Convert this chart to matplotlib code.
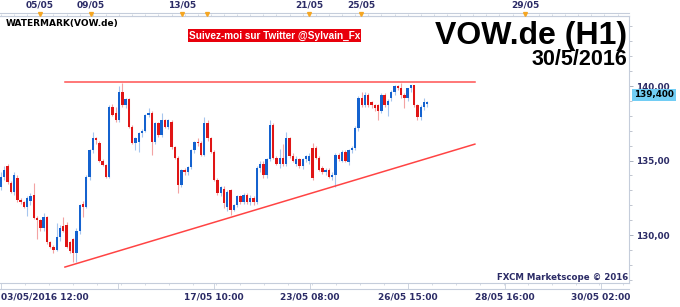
import numpy as np
import matplotlib
matplotlib.use('Agg')
import matplotlib.pyplot as plt
import matplotlib.transforms as mtransforms

# hourly candles (bar index on x)
opens = [133.2, 133.9, 134.6, 133.5, 132.9, 133.8, 132.35, 132.2, 131.9, 132.3,
         132.7, 131.15, 131.0, 130.5, 131.2, 129.5, 129.2, 129.0, 129.9, 130.6,
         130.7, 129.5, 129.7, 128.8, 130.3, 132.1, 131.9, 133.9, 135.7, 136.5,
         136.2, 135.0, 134.7, 133.9, 138.6, 138.2, 137.7, 139.6, 138.7, 139.1,
         137.25, 136.2, 136.25, 136.85, 137.0, 138.05, 138.2, 136.25, 137.5, 136.7,
         137.7, 137.25, 137.6, 135.9, 135.2, 133.35, 134.35, 134.2, 134.55, 135.7,
         136.25, 136.2, 135.4, 137.5, 136.5, 135.6, 133.7, 132.8, 133.1, 131.9,
         133.0, 131.7, 132.0, 132.6, 132.2, 132.7, 132.2, 132.5, 132.2, 134.5,
         134.8, 134.0, 135.1, 137.4, 135.15, 134.8, 135.2, 134.8, 136.5, 135.3,
         134.8, 135.1, 134.6, 135.1, 135.0, 135.85, 135.85, 135.2, 134.5, 134.2,
         134.35, 133.9, 134.0, 135.4, 135.0, 135.6, 134.9, 135.7, 135.85, 137.2,
         139.2, 138.7, 139.4, 138.9, 138.7, 138.7, 138.3, 139.4, 138.7, 139.2,
         139.6, 140.0, 139.85, 139.4, 139.2, 139.85, 140.05, 138.7, 137.9, 138.6,
         138.8]
highs = [134.2, 134.6, 134.8, 133.6, 134.2, 134.0, 132.5, 132.3, 132.6, 132.8,
         133.5, 131.3, 131.1, 131.5, 131.3, 129.6, 129.3, 130.8, 130.7, 131.2,
         130.9, 129.6, 129.8, 130.5, 132.1, 132.3, 134.0, 135.8, 136.9, 136.6,
         136.3, 135.1, 134.8, 138.7, 138.8, 138.6, 140.0, 140.2, 139.2, 139.2,
         137.4, 136.6, 136.9, 137.1, 138.1, 138.5, 138.3, 137.6, 137.6, 138.2,
         137.8, 137.8, 137.7, 136.0, 135.3, 134.4, 134.5, 134.6, 135.8, 136.3,
         136.5, 136.3, 137.9, 137.7, 136.6, 135.7, 133.8, 133.3, 133.3, 133.0,
         133.1, 132.1, 132.7, 132.7, 132.8, 132.8, 132.7, 132.6, 134.6, 135.0,
         135.0, 135.2, 137.7, 137.5, 135.3, 135.8, 136.1, 136.9, 136.6, 135.5,
         135.3, 135.2, 135.2, 135.4, 135.5, 136.2, 136.0, 135.3, 134.6, 134.5,
         134.5, 134.2, 135.5, 135.5, 135.7, 135.7, 135.8, 136.0, 137.3, 139.3,
         139.6, 139.6, 139.5, 139.0, 138.8, 138.8, 139.5, 139.5, 139.1, 139.7,
         140.1, 140.1, 140.2, 139.5, 139.9, 140.1, 140.1, 138.8, 138.7, 139.2,
         139.0]
lows = [133.0, 133.7, 133.4, 132.8, 132.7, 132.2, 132.1, 131.8, 131.3, 132.0,
        131.1, 129.7, 130.3, 130.3, 129.4, 129.1, 128.8, 128.9, 129.6, 130.2,
        129.1, 128.8, 128.2, 128.2, 130.1, 131.2, 131.8, 133.7, 135.5, 136.1,
        134.9, 134.6, 133.8, 133.8, 138.0, 137.6, 137.6, 138.6, 138.5, 137.2,
        136.1, 135.7, 135.6, 136.6, 136.9, 137.9, 135.4, 136.1, 136.6, 136.6,
        137.2, 137.1, 135.8, 135.1, 132.8, 133.2, 134.0, 134.0, 134.4, 135.5,
        136.0, 135.3, 135.3, 136.3, 135.5, 133.6, 132.7, 132.6, 131.8, 131.6,
        131.35, 131.6, 131.9, 132.1, 132.1, 132.1, 132.0, 132.0, 132.1, 134.2,
        133.8, 133.8, 135.0, 135.1, 134.7, 134.5, 134.6, 134.6, 135.2, 134.9,
        134.6, 134.5, 134.4, 134.9, 134.8, 133.7, 135.1, 134.3, 134.1, 134.0,
        133.8, 133.7, 133.2, 135.0, 134.9, 134.9, 134.7, 135.5, 135.7, 137.0,
        138.6, 138.6, 138.6, 138.5, 138.3, 137.7, 138.2, 138.6, 138.0, 139.0,
        139.4, 139.7, 139.2, 138.5, 139.0, 139.6, 138.6, 137.7, 137.7, 138.4,
        138.6]
closes = [133.9, 134.35, 133.55, 132.9, 134.0, 132.35, 132.2, 131.9, 132.5, 132.6,
          131.15, 131.0, 130.45, 131.2, 129.5, 129.2, 129.0, 129.9, 130.5, 130.3,
          129.2, 128.9, 128.8, 130.3, 132.0, 131.9, 133.9, 135.7, 136.5, 136.4,
          135.0, 134.7, 133.9, 138.6, 138.05, 137.7, 139.6, 138.7, 139.1, 137.25,
          136.2, 136.5, 136.85, 137.0, 138.05, 138.2, 136.25, 137.5, 136.7, 137.7,
          137.25, 137.7, 135.9, 135.2, 133.35, 134.35, 134.2, 134.55, 135.7, 136.25,
          136.2, 135.4, 137.5, 136.5, 135.6, 133.7, 132.8, 133.2, 132.15, 132.9,
          131.7, 132.0, 132.6, 132.2, 132.7, 132.2, 132.5, 132.2, 134.5, 134.8,
          134.0, 135.1, 137.4, 135.15, 134.8, 135.2, 134.8, 136.5, 135.3, 135.0,
          135.1, 134.6, 135.1, 135.3, 135.3, 133.8, 135.2, 134.35, 134.2, 134.35,
          133.9, 134.0, 135.4, 135.1, 135.6, 135.0, 135.7, 135.85, 137.2, 139.2,
          138.7, 139.4, 138.7, 138.7, 138.5, 138.3, 139.4, 138.7, 139.0, 139.6,
          140.0, 139.9, 139.4, 139.2, 139.85, 140.05, 138.7, 137.9, 138.6, 138.9,
          138.9]

# trend lines (bar index, price)
resist_x = [19.5, 144.5]
resist_y = [140.27, 140.27]
support_x = [19.5, 144.5]
support_y = [127.85, 136.1]

last_price = 139.4

top_ticks = [11.9, 27.4, 55.2, 62.8, 93.9, 109.8, 159.8]
top_labels = ['05/05', '09/05', '13/05', '', '21/05', '25/05', '29/05']
top_marks = [11.9, 27.4, 55.2, 62.8, 93.9, 109.8, 159.8]

bottom_ticks = [0, 35.7, 64.9, 94.2, 124.1, 153.7, 182.9]
bottom_labels = ['03/05/2016 12:00', '', '17/05 10:00', '23/05 08:00',
                 '26/05 15:00', '28/05 16:00', '30/05 02:00']

price_ticks = [130, 135, 140]
price_labels = ['130,00', '135,00', '140,00']

plt.rcParams['font.family'] = 'DejaVu Sans'

navy = '#2b2b66'
frame = '#c5cddb'
blue = '#1462cf'
red = '#e01515'

fig = plt.figure(figsize=(6.8, 3.07), dpi=100)
ax = fig.add_axes([0, 24 / 307, 629 / 680, 267 / 307])

o = np.array(opens)
c = np.array(closes)
h = np.array(highs)
l = np.array(lows)
x = np.arange(len(o))
up = c >= o
body_lo = np.minimum(o, c)
body_h = np.maximum(np.abs(c - o), 0.06)

ax.vlines(x[up], l[up], h[up], color='#a6c6ee', lw=0.8, zorder=2)
ax.vlines(x[~up], l[~up], h[~up], color='#f3a3a3', lw=0.8, zorder=2)
ax.bar(x[up], body_h[up], bottom=body_lo[up], width=0.72, color=blue, zorder=3)
ax.bar(x[~up], body_h[~up], bottom=body_lo[~up], width=0.72, color=red, zorder=3)

ax.plot(resist_x, resist_y, color='#ff5252', lw=1.1, zorder=4)
ax.plot(support_x, support_y, color='#ff4444', lw=1.1, zorder=4)

ax.set_xlim(-0.3, 191.5)
ax.set_ylim(126.78, 144.7)

for side in ['top', 'bottom', 'right']:
    ax.spines[side].set_color(frame)
    ax.spines[side].set_linewidth(0.8)
ax.spines['left'].set_visible(False)

# price axis on the right
ax.yaxis.tick_right()
ax.set_yticks(price_ticks, price_labels)
ax.set_yticks(np.arange(127, 145, 1), minor=True)
ax.tick_params(axis='y', which='major', direction='out', length=3, width=0.6,
               color='#9aa3b3', labelsize=6.3, labelcolor=navy, pad=2)
ax.tick_params(axis='y', which='minor', direction='out', length=1.8, width=0.6,
               color='#b5bcc8')
for t in ax.get_yticklabels():
    t.set_fontweight('bold')

# bottom date axis
ax.set_xticks(bottom_ticks, bottom_labels)
ax.set_xticks(np.arange(0, 191, 7.3), minor=True)
ax.tick_params(axis='x', which='major', direction='out', length=4.3, width=0.6,
               color=frame, labelsize=6.5, labelcolor=navy, pad=2.5)
ax.tick_params(axis='x', which='minor', direction='out', length=1.5, width=0.5,
               color=frame)
for t in ax.get_xticklabels():
    t.set_fontweight('bold')
ax.get_xticklabels()[0].set_horizontalalignment('left')

# top day axis
sec = ax.secondary_xaxis('top')
sec.set_xticks(top_ticks, top_labels)
sec.set_xticks(np.arange(0, 191, 4), minor=True)
sec.spines['top'].set_color(frame)
sec.tick_params(axis='x', which='major', direction='out', length=2.4, width=0.6,
                color=frame, labelsize=6.5, labelcolor=navy, pad=2)
sec.tick_params(axis='x', which='minor', direction='out', length=1.2, width=0.5,
                color=frame)
for t in sec.get_xticklabels():
    t.set_fontweight('bold')

trans = mtransforms.blended_transform_factory(ax.transData, ax.transAxes)
ax.plot(top_marks, [1.007] * len(top_marks), 'v', color='#f5a623', ms=2.8,
        transform=trans, clip_on=False, zorder=5)

# band lines above and below the plot
ax.plot([0, 1], [1.0124, 1.0124], color=frame, lw=0.8, transform=ax.transAxes,
        clip_on=False)
ax.plot([0, 1], [-0.0225, -0.0225], color=frame, lw=0.8, transform=ax.transAxes,
        clip_on=False)

# last price tag
ytrans = mtransforms.blended_transform_factory(ax.transAxes, ax.transData)
ax.text(1.008, last_price, '139,400', transform=ytrans, ha='left', va='center',
        fontsize=6.3, fontweight='bold', color='black', clip_on=False,
        bbox=dict(facecolor='#72cdf4', edgecolor='none', pad=1.2))

# texts
fig.text(6 / 680, 1 - 23.5 / 307, 'WATERMARK(VOW.de)', fontsize=6.5,
         fontweight='bold', color='black', ha='left', va='center')
fig.text(274.5 / 680, 1 - 35.5 / 307, 'Suivez-moi sur Twitter @Sylvain_Fx',
         fontsize=7.2, fontweight='bold', color='white', ha='center', va='center',
         family='Liberation Sans',
         bbox=dict(facecolor='#e8000c', edgecolor='none', pad=0.8))
fig.text(627 / 680, 1 - 36 / 307, 'VOW.de (H1)', fontsize=23, fontweight='bold',
         family='Liberation Sans', ha='right', va='center')
fig.text(627 / 680, 1 - 59.5 / 307, '30/5/2016', fontsize=15.5, fontweight='bold',
         family='Liberation Sans', ha='right', va='center')
fig.text(628 / 680, 1 - 278 / 307, 'FXCM Marketscope \u00a9 2016', fontsize=6.2,
         fontweight='bold', color=navy, ha='right', va='center')

fig.savefig('out.png', dpi=100, facecolor='white')
